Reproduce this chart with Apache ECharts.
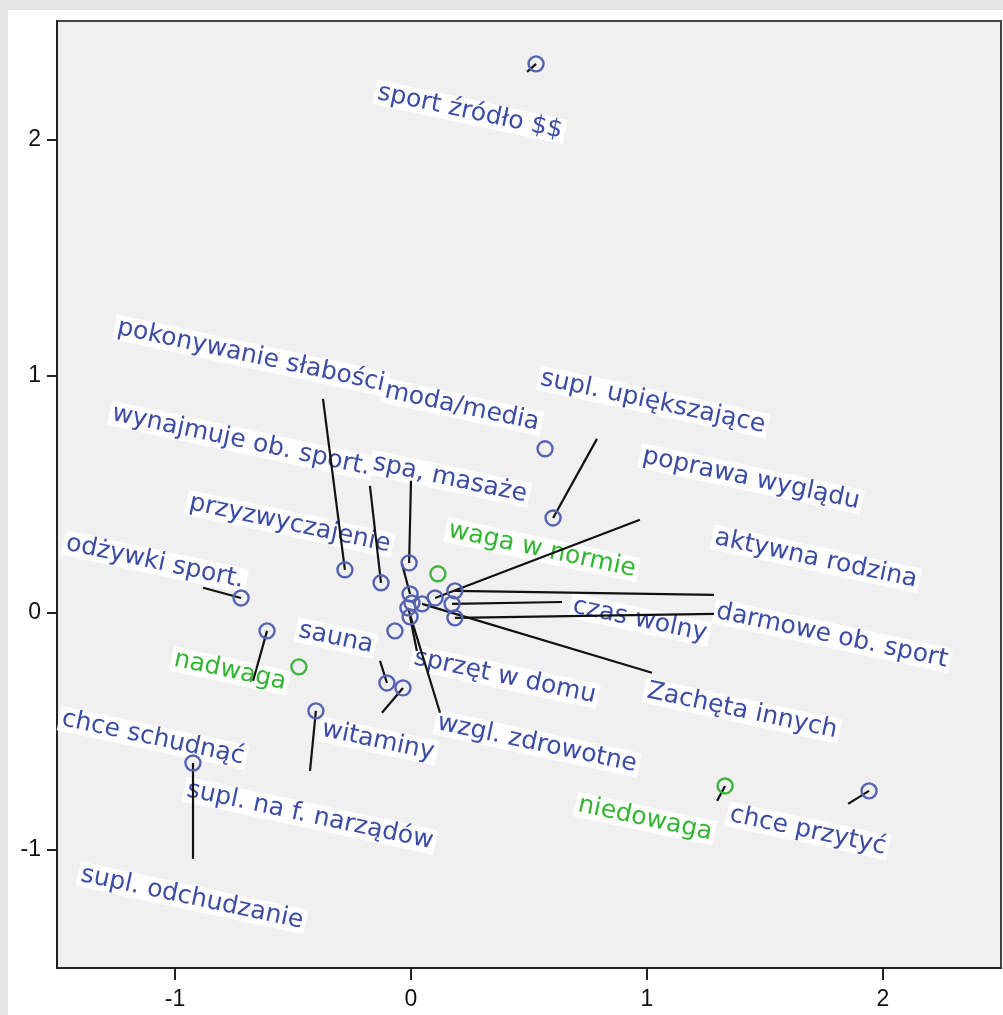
<!DOCTYPE html>
<html><head><meta charset="utf-8">
<script src="https://cdn.jsdelivr.net/npm/echarts@6/dist/echarts.min.js"></script>
<style>
html,body{margin:0;padding:0;background:#e6e6e6;width:1003px;height:1015px;overflow:hidden;}
#chart{position:absolute;left:8px;top:10px;width:995px;height:1005px;background:#fff;}
</style></head><body><div id="chart"></div>
<script>
// Row categories (blue)
const rowNames = ["sport źródło $$","moda/media","supl. upiększające","pokonywanie słabości","wynajmuje ob. sport.","spa, masaże","przyzwyczajenie","poprawa wyglądu","aktywna rodzina","czas wolny","darmowe ob. sport","Zachęta innych","sprzęt w domu","wzgl. zdrowotne","sauna","witaminy","odżywki sport.","chce schudnąć","supl. na f. narządów","supl. odchudzanie","chce przytyć","",""];
const rowX = [0.530,0.568,0.602,-0.280,-0.127,-0.008,-0.004,0.102,0.186,0.174,0.186,0.047,-0.004,-0.013,-0.102,-0.034,-0.720,-0.610,-0.403,-0.924,1.941,-0.068,0.004];
const rowY = [2.319,0.693,0.401,0.182,0.127,0.211,0.080,0.063,0.093,0.038,-0.021,0.038,-0.017,0.021,-0.296,-0.317,0.063,-0.076,-0.414,-0.634,-0.752,-0.076,0.042];
// Column categories (green)
const colNames = ["waga w normie","nadwaga","niedowaga"];
const colX = [0.114,-0.475,1.331];
const colY = [0.165,-0.228,-0.731];

// Label placement (data units) and leader-line ends (null = no leader)
const rowLabelX = [0.250,0.216,1.025,-0.678,-0.720,0.165,-0.513,1.441,1.716,0.970,1.784,1.403,0.398,0.534,-0.318,-0.140,-1.085,-1.093,-0.428,-0.928,1.682,null,null];
const rowLabelY = [2.116,0.870,0.891,1.086,0.727,0.566,0.376,0.566,0.228,-0.030,-0.097,-0.414,-0.270,-0.553,-0.106,-0.541,0.215,-0.528,-0.857,-1.204,-0.921,null,null];
const rowLeaderX = [0.492,null,0.788,-0.373,-0.174,0.000,-0.038,0.970,1.284,0.640,1.284,1.021,0.025,0.123,-0.131,-0.123,-0.881,-0.669,-0.428,-0.924,1.852,null,null];
const rowLeaderY = [2.285,null,0.735,0.904,0.536,0.558,0.207,0.393,0.076,0.046,-0.004,-0.253,-0.161,-0.422,-0.203,-0.422,0.106,-0.287,-0.667,-1.039,-0.807,null,null];
const colLabelX = [0.555,-0.767,0.992];
const colLabelY = [0.266,-0.245,-0.870];
const colLeaderX = [null,null,1.297];
const colLeaderY = [null,null,-0.794];

const tickValues = [-1,0,1,2];

const BLUE = '#3c4ca4', GREEN = '#33b533';

function pts(names, xs, ys){ return xs.map((x,i)=>({name:names[i], value:[x, ys[i]]})); }
function labs(names, lx, ly){ const out=[]; lx.forEach((x,i)=>{ if(x!==null && names[i]) out.push({name:names[i], value:[x, ly[i]]}); }); return out; }
function leaders(xs, ys, lx, ly){ const out=[]; xs.forEach((x,i)=>{ if(lx[i]!==null) out.push({coords:[[x,ys[i]],[lx[i],ly[i]]]}); }); return out; }

const labelStyle = (color)=>({
  show:true, position:'inside', formatter:(p)=>p.name, rotate:-12, align:'center', verticalAlign:'middle',
  color, opacity:1, fontFamily:'DejaVu Sans', fontSize:25, backgroundColor:'rgba(255,255,255,0.92)', padding:[0,3]
});

const chart = echarts.init(document.getElementById('chart'), null, {renderer:'canvas'});
const axisCommon = {
  type:'value', min:-1.5, max:2.5,
  splitLine:{show:false},
  axisLine:{show:true, onZero:false, lineStyle:{color:'#222', width:2}},
  axisTick:{show:true, customValues:tickValues, lineStyle:{color:'#222', width:2}},
  axisLabel:{customValues:tickValues, color:'#111', fontSize:23, fontFamily:'Liberation Sans'}
};
chart.setOption({
  animation:false,
  backgroundColor:'#ffffff',
  grid:{left:49, top:11, width:944, height:947, show:true, backgroundColor:'#f0f0f0', borderColor:'#444', borderWidth:2},
  xAxis:Object.assign({}, axisCommon, {axisTick:Object.assign({}, axisCommon.axisTick, {length:12}), axisLabel:Object.assign({}, axisCommon.axisLabel, {margin:20})}),
  yAxis:Object.assign({}, axisCommon, {axisTick:Object.assign({}, axisCommon.axisTick, {length:10}), axisLabel:Object.assign({}, axisCommon.axisLabel, {margin:16})}),
  series:[
    {type:'scatter', symbolSize:0, z:2, silent:true, itemStyle:{opacity:1}, data:labs(rowNames,rowLabelX,rowLabelY), label:labelStyle(BLUE)},
    {type:'scatter', symbolSize:0, z:2, silent:true, itemStyle:{opacity:1}, data:labs(colNames,colLabelX,colLabelY), label:labelStyle(GREEN)},
    {type:'lines', coordinateSystem:'cartesian2d', z:3, silent:true,
      lineStyle:{color:'#111', width:2.2, opacity:1},
      data:leaders(rowX,rowY,rowLeaderX,rowLeaderY).concat(leaders(colX,colY,colLeaderX,colLeaderY))},
    {type:'scatter', z:4, symbol:'circle', symbolSize:15, data:pts(rowNames,rowX,rowY),
      itemStyle:{color:'rgba(0,0,0,0)', borderColor:'#5562b0', borderWidth:2.4, opacity:1}},
    {type:'scatter', z:4, symbol:'circle', symbolSize:15, data:pts(colNames,colX,colY),
      itemStyle:{color:'rgba(0,0,0,0)', borderColor:'#3fb53f', borderWidth:2.4, opacity:1}}
  ]
});
</script></body></html>
